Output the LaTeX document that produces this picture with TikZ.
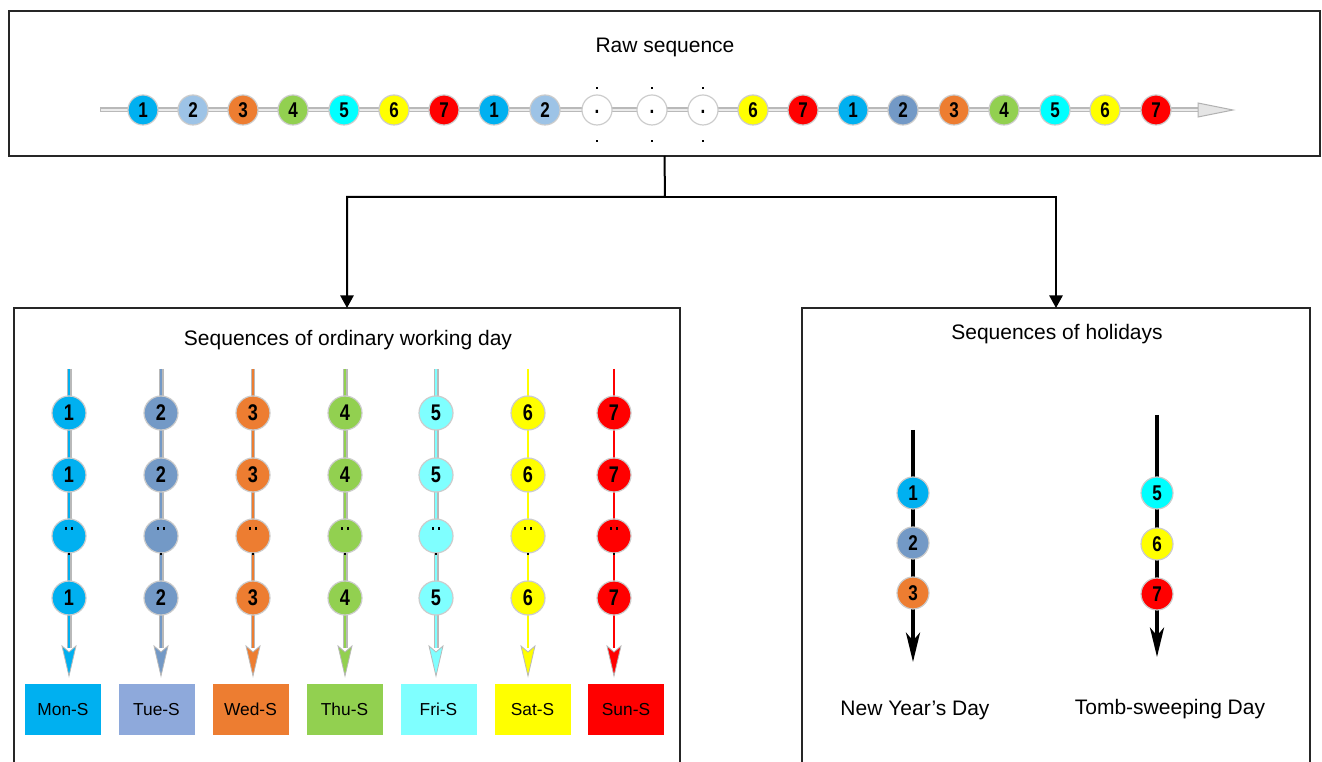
\documentclass[tikz,border=0pt]{standalone}
\usepackage{fontspec}
\setmainfont{Liberation Sans}
\newfontfamily\numfont[FakeStretch=0.8]{Liberation Sans}
\usetikzlibrary{arrows.meta,calc}
\definecolor{cA}{HTML}{00B0F0}
\definecolor{cBl}{HTML}{9DC3E6}
\definecolor{cB}{HTML}{7399C6}
\definecolor{cBox}{HTML}{8EA9DB}
\definecolor{cC}{HTML}{ED7D31}
\definecolor{cD}{HTML}{92D050}
\definecolor{cE}{HTML}{00FFFF}
\definecolor{cEl}{HTML}{7FFFFF}
\definecolor{cF}{HTML}{FFFF00}
\definecolor{cG}{HTML}{FF0000}
\tikzset{
  frame/.style={draw=black!85, line width=1.1pt, inner sep=0, outer sep=0},
  conn/.style={draw=black, line width=1.5pt, -{Triangle[length=9.5pt,width=10pt]}},
  ball/.style={circle, draw=gray!40, line width=0.9pt, inner sep=0, minimum size=22.5pt,
    font=\numfont\bfseries\fontsize{16}{16}\selectfont},
  lball/.style={ball, minimum size=25.5pt, font=\numfont\bfseries\fontsize{17}{17}\selectfont},
  hball/.style={ball, minimum size=24pt},
  emptyball/.style={ball, fill=white, text height=6pt, text depth=0pt},
  daybox/.style={minimum width=57pt, minimum height=38.25pt, inner sep=0,
    font=\fontsize{13}{13}\selectfont},
  title/.style={font=\fontsize{15.75}{15.75}\selectfont, inner sep=0},
  hline/.style={draw=black, line width=3pt, -{Stealth[length=22pt,width=10.5pt,inset=6pt]}},
  dotmark/.style={fill=black},
}
\begin{document}
\begin{tikzpicture}[x=0.75pt,y=-0.75pt]
\useasboundingbox (0,0) rectangle (1322,762);
\clip (0,0) rectangle (1322,762);

% ---------- top box ----------
\node[frame, minimum width=983.25pt, minimum height=108.75pt] (topbox) at (664.5,83.5) {};
\node[title] (rawt) at (665,47) {Raw sequence};

\coordinate (rs) at (100,110);
\coordinate (rh) at (1198,110);
\coordinate (re) at (1233,110);
\draw[line width=3.75pt, gray!55] (rs) -- (rh);
\draw[line width=1.6pt, gray!15] ($(rs)+(1,0)$) -- (rh);
\filldraw[fill=gray!20, draw=gray!60, line width=0.75pt] ($(rh)+(0,-7)$) -- (re) -- ($(rh)+(0,7)$) -- cycle;

\node[ball, fill=cA]  (r1)  at (143,110) {1};
\node[ball, fill=cBl] (r2)  at (193,110) {2};
\node[ball, fill=cC]  (r3)  at (243,110) {3};
\node[ball, fill=cD]  (r4)  at (293,110) {4};
\node[ball, fill=cE]  (r5)  at (344,110) {5};
\node[ball, fill=cF]  (r6)  at (394,110) {6};
\node[ball, fill=cG]  (r7)  at (444,110) {7};
\node[ball, fill=cA]  (r8)  at (494,110) {1};
\node[ball, fill=cBl] (r9)  at (545,110) {2};
\node[emptyball] (r10) at (597,110) {.};
\node[emptyball] (r11) at (652,110) {.};
\node[emptyball] (r12) at (703,110) {.};
\node[ball, fill=cF]  (r13) at (753,110) {6};
\node[ball, fill=cG]  (r14) at (803,110) {7};
\node[ball, fill=cA]  (r15) at (853,110) {1};
\node[ball, fill=cB]  (r16) at (903,110) {2};
\node[ball, fill=cC]  (r17) at (954,110) {3};
\node[ball, fill=cD]  (r18) at (1004,110) {4};
\node[ball, fill=cE]  (r19) at (1055,110) {5};
\node[ball, fill=cF]  (r20) at (1105,110) {6};
\node[ball, fill=cG]  (r21) at (1156,110) {7};
\foreach \n in {r10,r11,r12}{
  \fill[dotmark] ($(\n)+(-1.3,-23.3)$) rectangle ++(2.6,2.6);
  \fill[dotmark] ($(\n)+(-1.3,29.7)$) rectangle ++(2.6,2.6);
}

% ---------- lower boxes ----------
\node[frame, minimum width=499.5pt, minimum height=354pt] (leftbox) at (347,544) {};
\node[frame, minimum width=381pt, minimum height=354pt] (rightbox) at (1056,544) {};
\node[title] (lt) at (348,340) {Sequences of ordinary working day};
\node[title] (rt) at (1057,334) {Sequences of holidays};

\coordinate (j) at (665,197);
\draw[conn] (topbox.south) -- (j) -| (leftbox.north);
\draw[conn] (j) -| (rightbox.north);

% ---------- weekday lanes ----------
\foreach \x/\c/\t/\bx/\lab/\bc/\ow/\iw [count=\k] in {
  69/cA/1/63/Mon-S/cA/3.75/2.2,
  161/cB/2/156.5/Tue-S/cBox/3.75/2.2,
  253/cC/3/250.5/Wed-S/cC/3/2.2,
  345/cD/4/344.5/Thu-S/cD/3.75/2.2,
  436/cEl/5/438.5/Fri-S/cEl/3.75/2.2,
  528/cF/6/532.5/Sat-S/cF/0/2.2,
  614/cG/7/626/Sun-S/cG/0/1.5}{
  \coordinate (top\k) at (\x,369);
  \coordinate (tip\k) at (\x,676);
  \coordinate (ah\k) at (\x,648);
  \ifdim \ow pt>0pt
    \draw[line width=\ow pt, gray!55] (top\k) -- (ah\k);
  \fi
  \draw[line width=\iw pt, \c] (top\k) -- (ah\k);
  \filldraw[fill=\c, draw=gray!55, line width=0.6pt] ($(ah\k)+(-7,-2)$) -- (tip\k) -- ($(ah\k)+(7,-2)$) -- ($(ah\k)+(0,4)$) -- cycle;
  \node[lball, fill=\c] (l\k a) at (\x,413) {\t};
  \node[lball, fill=\c] (l\k b) at (\x,475) {\t};
  \node[lball, fill=\c] (l\k c) at (\x,536) {};
  \node[lball, fill=\c] (l\k d) at (\x,598) {\t};
  \fill[dotmark] ($(l\k c)+(-4.2,-8.5)$) rectangle ++(2.3,2.3);
  \fill[dotmark] ($(l\k c)+(1.9,-8.5)$) rectangle ++(2.3,2.3);
  \fill[dotmark] ($(l\k c)+(-1.2,16.8)$) rectangle ++(2.4,2.4);
  \node[daybox, fill=\bc] (d\k) at (\bx,709.5) {\lab};
}

% ---------- holiday lanes ----------
\coordinate (h1t) at (913,430);
\coordinate (h1e) at (913,662);
\coordinate (h2t) at (1157,415);
\coordinate (h2e) at (1157,657);
\draw[hline] (h1t) -- (h1e);
\draw[hline] (h2t) -- (h2e);
\node[hball, fill=cA] (ha) at (913,493) {1};
\node[hball, fill=cB] (hb) at (913,543) {2};
\node[hball, fill=cC] (hc) at (913,593) {3};
\node[hball, fill=cE] (hd) at (1157,493) {5};
\node[hball, fill=cF] (he) at (1157,544) {6};
\node[hball, fill=cG] (hf) at (1157,594) {7};
\node[title] (ny) at (915,710) {New Year’s Day};
\node[title] (ts) at (1170,709) {Tomb-sweeping Day};
\end{tikzpicture}
\end{document}
